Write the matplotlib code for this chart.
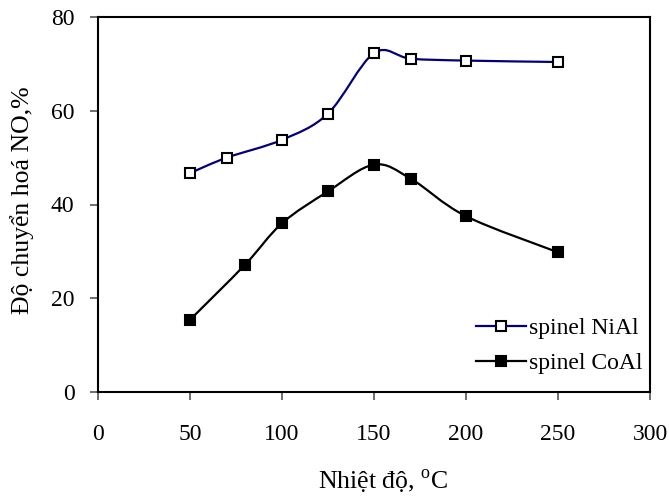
import matplotlib
matplotlib.use("Agg")
import matplotlib.pyplot as plt
import numpy as np
from matplotlib.path import Path
from matplotlib.patches import PathPatch
from matplotlib.lines import Line2D

# Data
temp_nial = [50, 70, 100, 125, 150, 170, 200, 250]
conv_nial = [46.7, 50.0, 53.8, 59.4, 72.3, 71.1, 70.7, 70.4]
temp_coal = [50, 80, 100, 125, 150, 170, 200, 250]
conv_coal = [15.4, 27.2, 36.0, 42.8, 48.5, 45.5, 37.5, 29.8]
labels = ["spinel NiAl", "spinel CoAl"]
xticks = [0, 50, 100, 150, 200, 250, 300]
yticks = [0, 20, 40, 60, 80]

plt.rcParams['font.family'] = ['Liberation Serif', 'DejaVu Serif']
plt.rcParams['mathtext.fontset'] = 'custom'
plt.rcParams['mathtext.rm'] = 'Liberation Serif'

W, H = 669, 497
fig = plt.figure(figsize=(W / 100, H / 100), dpi=100)
ax = fig.add_axes([98 / W, (H - 392) / H, (650 - 98) / W, (392 - 17) / H])


def smooth_path(x, y):
    p = np.column_stack([x, y]).astype(float)
    n = len(p)
    verts = [p[0]]
    codes = [Path.MOVETO]
    for i in range(n - 1):
        p0 = p[i - 1] if i > 0 else p[i]
        p1 = p[i]
        p2 = p[i + 1]
        p3 = p[i + 2] if i + 2 < n else p[i + 1]
        c1 = p1 + (p2 - p0) / 6.0
        c2 = p2 - (p3 - p1) / 6.0
        verts += [c1, c2, p2]
        codes += [Path.CURVE4] * 3
    return Path(verts, codes)


ax.add_patch(PathPatch(smooth_path(temp_nial, conv_nial), fill=False,
                       edgecolor='#000080', lw=1.6, zorder=2))
ax.add_patch(PathPatch(smooth_path(temp_coal, conv_coal), fill=False,
                       edgecolor='black', lw=1.6, zorder=2))
ax.plot(temp_nial, conv_nial, ls='none', marker='s', ms=7, mfc='white',
        mec='black', mew=1.5, zorder=3)
ax.plot(temp_coal, conv_coal, ls='none', marker='s', ms=7, mfc='black',
        mec='black', mew=1.5, zorder=3)

ax.set_xlim(0, 300)
ax.set_ylim(0, 80)
ax.set_xticks(xticks)
ax.set_yticks(yticks)
ax.tick_params(axis='both', direction='out', length=6, width=1.2,
               labelsize=17, color='#555555')
ax.tick_params(axis='x', pad=17)
ax.tick_params(axis='y', pad=11)
for s in ax.spines.values():
    s.set_linewidth(1.5)
    s.set_color('black')

handles = [
    Line2D([], [], color='#000080', lw=1.6, marker='s', ms=7, mfc='white',
           mec='black', mew=1.5),
    Line2D([], [], color='black', lw=1.6, marker='s', ms=7, mfc='black',
           mec='black', mew=1.5),
]
ax.legend(handles, labels, loc='upper left', bbox_to_anchor=(0.685, 0.198),
          frameon=False, fontsize=17, handlelength=2.1, handletextpad=0.15,
          borderpad=0, borderaxespad=0, labelspacing=0.55)

fig.text(383 / W, 1 - 489 / H, r"Nhiệt độ, $^{\mathrm{o}}$C", ha='center',
         va='baseline', fontsize=18.5)
fig.text(22 / W, 1 - 200 / H, "Độ chuyển hoá NO,%", ha='center', va='center',
         rotation=90, fontsize=18.5)

fig.savefig("out.png", dpi=100)
